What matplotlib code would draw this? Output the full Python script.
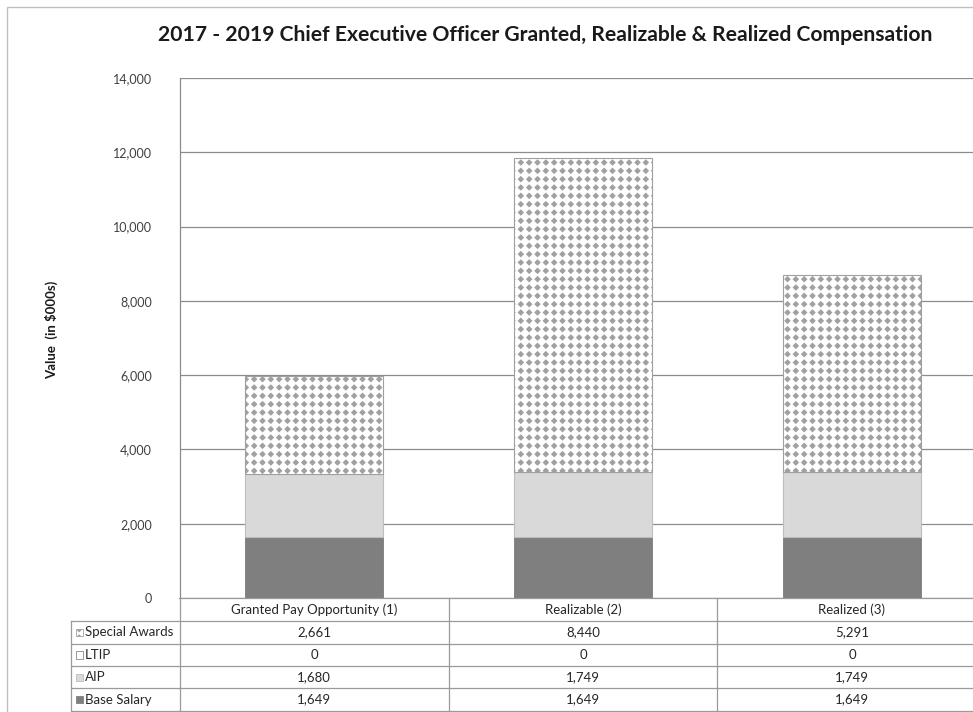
import numpy as np
import matplotlib
matplotlib.use("Agg")
import matplotlib.pyplot as plt
import matplotlib.hatch as mhatch
from matplotlib.path import Path
from matplotlib.patches import Rectangle
from matplotlib.transforms import blended_transform_factory

# ---------------- data ----------------
categories = ["Granted Pay Opportunity (1)", "Realizable (2)", "Realized (3)"]
base_salary = [1649, 1649, 1649]
aip = [1680, 1749, 1749]
ltip = [0, 0, 0]
special_awards = [2661, 8440, 5291]
series_names = ["Special Awards", "LTIP", "AIP", "Base Salary"]
yticks = [0, 2000, 4000, 6000, 8000, 10000, 12000, 14000]
title = "2017 - 2019 Chief Executive Officer Granted, Realizable & Realized Compensation"
ylabel = "Value  (in $000s)"


# ---------------- custom diamond-grid hatch (replaces '*') ----------------
class DiamondGrid(mhatch.HatchPatternBase):
    def __init__(self, hatch, density):
        self.n = 12 if "*" in hatch else 0
        self.r = 0.025
        self.num_vertices = self.n * self.n * 5

    def set_vertices_and_codes(self, vertices, codes):
        n, r = self.n, self.r
        shape = np.array([[0, r], [r, 0], [0, -r], [-r, 0], [0, r]])
        k = 0
        for i in range(n):
            for j in range(n):
                cx, cy = (i + 0.5) / n, (j + 0.5) / n
                vertices[k:k + 5] = shape + [cx, cy]
                codes[k] = Path.MOVETO
                codes[k + 1:k + 4] = Path.LINETO
                codes[k + 4] = Path.CLOSEPOLY
                k += 5


mhatch._hatch_types = [t for t in mhatch._hatch_types if t is not mhatch.Stars] + [DiamondGrid]
plt.rcParams["hatch.linewidth"] = 0.8

plt.rcParams["font.family"] = ["Lato", "DejaVu Sans"]

W, H = 973, 712
fig = plt.figure(figsize=(W / 100, H / 100), dpi=100)


def fx(x):
    return x / W


def fy(y):
    return 1 - y / H


# axes: x 179..986 px, y 78..598 px
ax = fig.add_axes([fx(179.5), fy(598), (986.5 - 179.5) / W, (598 - 78) / H])
ax.set_xlim(-0.5, 2.5)
ax.set_ylim(0, 14000)

x = np.arange(len(categories))
bw = 0.513
c_base = "#7f7f7f"
c_aip = "#d9d9d9"
c_sa = "#a0a0a0"

b0 = np.array(base_salary)
b1 = b0 + np.array(aip)
b2 = b1 + np.array(ltip)
ax.bar(x, base_salary, bw, color=c_base, edgecolor="#7a7a7a", linewidth=0.6, zorder=3)
ax.bar(x, aip, bw, bottom=b0, color=c_aip, edgecolor="#bdbdbd", linewidth=0.8, zorder=3)
ax.bar(x, ltip, bw, bottom=b1, color="white", edgecolor="#bdbdbd", linewidth=0.8, zorder=3)
ax.bar(x, special_awards, bw, bottom=b2, color="white", edgecolor=c_sa, hatch="*",
       linewidth=0.8, zorder=3)

ax.set_yticks(yticks)
ax.set_yticklabels([f"{v:,}" for v in yticks], fontsize=9, color="#404040")
ax.yaxis.grid(True, color="#8c8c8c", linewidth=0.9, zorder=0)
ax.tick_params(axis="y", length=0, pad=20)
ax.set_xticks([])
for s in ["top", "right", "bottom"]:
    ax.spines[s].set_visible(False)
ax.spines["left"].set_color("#8c8c8c")
ax.spines["left"].set_linewidth(0.9)

# title and y label
fig.text(fx(545), fy(35), title, ha="center", va="center", fontsize=15.2,
         fontweight="bold", color="#1a1a1a")
fig.text(fx(52), fy(330), ylabel, ha="center", va="center", rotation=90,
         fontsize=9.5, fontweight="bold", color="#1a1a1a")

# outer chart border
fig.patches.append(Rectangle((fx(7), fy(760)), fx(1100), fy(7) - fy(760),
                             transform=fig.transFigure, fill=False,
                             edgecolor="#bfbfbf", linewidth=1.0))

# ---------------- data table ----------------
tb = blended_transform_factory(ax.transData, fig.transFigure)
lc = "#9a9a9a"
row_edges = [598, 621, 644, 666, 688, 711]
fig.add_artist(plt.Line2D([fx(179), fx(990)], [fy(598), fy(598)], color=lc, lw=0.9))
for yy in row_edges[1:]:
    fig.add_artist(plt.Line2D([fx(71), fx(990)], [fy(yy), fy(yy)], color=lc, lw=0.9))
fig.add_artist(plt.Line2D([fx(71), fx(71)], [fy(621), fy(711)], color=lc, lw=0.9))
fig.add_artist(plt.Line2D([fx(179.5), fx(179.5)], [fy(598), fy(711)], color=lc, lw=0.9))
for xb in [0.5, 1.5]:
    fig.add_artist(plt.Line2D([xb, xb], [fy(598), fy(711)], color=lc, lw=0.9,
                              transform=tb))

tcol = "#262626"
for i, cat in enumerate(categories):
    fig.text(i, fy(609.5), cat, transform=tb, ha="center", va="center",
             fontsize=9.5, color=tcol)

row_values = [special_awards, ltip, aip, base_salary]
for r, (name, vals) in enumerate(zip(series_names, row_values)):
    yc = (row_edges[r + 1] + row_edges[r + 2]) / 2
    fig.text(fx(85), fy(yc), name, ha="left", va="center", fontsize=9.5, color=tcol)
    for i, v in enumerate(vals):
        fig.text(i, fy(yc), f"{v:,}", transform=tb, ha="center", va="center",
                 fontsize=9.5, color=tcol)

sw_styles = [
    dict(facecolor="white", edgecolor=c_sa, hatch="*"),
    dict(facecolor="white", edgecolor="#8c8c8c"),
    dict(facecolor=c_aip, edgecolor="#bdbdbd"),
    dict(facecolor=c_base, edgecolor=c_base),
]
for r, st in enumerate(sw_styles):
    yc = (row_edges[r + 1] + row_edges[r + 2]) / 2
    fig.patches.append(Rectangle((fx(75.5), fy(yc + 3.5)), fx(7), fy(yc - 3.5) - fy(yc + 3.5),
                                 transform=fig.transFigure, linewidth=0.6, **st))

fig.savefig("out.png", dpi=100)
